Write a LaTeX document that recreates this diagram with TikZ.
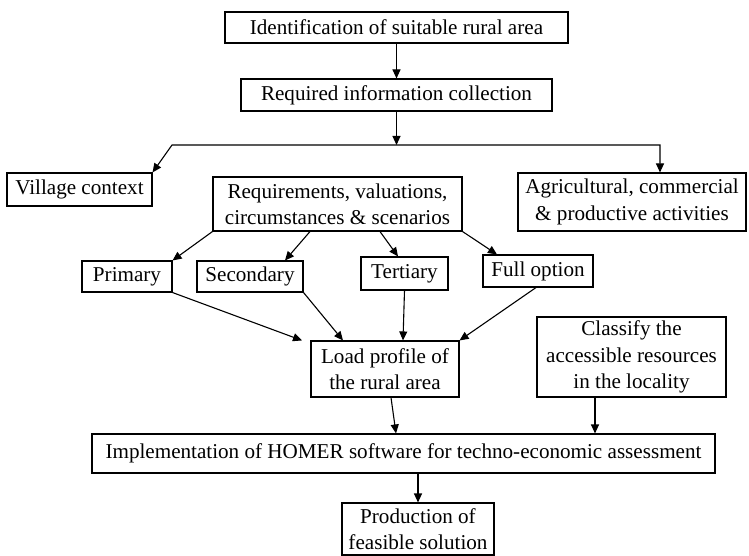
\documentclass[tikz,border=0pt]{standalone}
\usepackage{fontspec}
\setmainfont{Liberation Serif}
\usetikzlibrary{arrows.meta,calc}
\begin{document}
\begin{tikzpicture}[x=1bp,y=-1bp,
  box/.style={draw,line width=1.1bp,inner sep=0pt,align=center,
    font=\fontsize{21.2}{26.5}\selectfont},
  arr/.style={line width=1.1bp,-{Triangle[length=9bp,width=8bp]}},
  darr/.style={line width=1.1bp,{Triangle[length=9bp,width=8bp]}-{Triangle[length=9bp,width=8bp]}}]
\useasboundingbox (0,0) rectangle (749,556);
\node[box,minimum width=343bp,minimum height=31bp] (ident) at (396.5,27.5) {Identification of suitable rural area};
\node[box,minimum width=311bp,minimum height=32bp] (req) at (396.5,95) {Required information collection};
\node[box,minimum width=145bp,minimum height=33bp] (village) at (79.5,189.5) {Village context};
\node[box,minimum width=249bp,minimum height=54bp] (reqs) at (337.5,204) {Requirements, valuations,\\circumstances \& scenarios};
\node[box,minimum width=228bp,minimum height=58bp] (agri) at (632,202) {Agricultural, commercial\\\& productive activities};
\node[box,minimum width=90bp,minimum height=31bp] (primary) at (127,276.5) {Primary};
\node[box,minimum width=106bp,minimum height=31bp] (secondary) at (250,276.5) {Secondary};
\node[box,minimum width=87bp,minimum height=33bp] (tertiary) at (404.5,273.5) {Tertiary};
\node[box,minimum width=110bp,minimum height=32bp] (fullopt) at (538,271) {Full option};
\node[box,minimum width=148bp,minimum height=56bp] (load) at (385,369) {Load profile of\\the rural area};
\node[box,minimum width=189bp,minimum height=80bp] (classify) at (631.5,357) {Classify the\\accessible resources\\in the locality};
\node[box,minimum width=623bp,minimum height=39bp] (impl) at (403.5,453.5) {Implementation of HOMER software for techno-economic assessment};
\node[box,minimum width=152bp,minimum height=52bp] (prod) at (418,529) {Production of\\feasible solution};
\coordinate (jl) at (172,145);
\coordinate (jr) at (660,145);
\draw[arr] (ident.south) -- (req.north);
\draw[arr] (req.south) -- (req.south |- jl);
\draw[darr] (village.north east) -- (jl) -- (jr) -- (jr |- agri.north);
\draw[arr] (reqs.south west) -- (primary.north east);
\draw[arr] ([xshift=-27.5bp]reqs.south) -- ([xshift=35bp]secondary.north);
\draw[arr] ([xshift=42.5bp]reqs.south) -- ([xshift=-6.5bp]tertiary.north);
\draw[arr] (reqs.south east) -- ([xshift=-41bp]fullopt.north);
\draw[arr] (primary.south east) -- ([xshift=-83bp]load.north);
\draw[arr] (secondary.south east) -- ([xshift=-42bp]load.north);
\draw[arr] (tertiary.south) -- ([xshift=18bp]load.north);
\draw[arr] ([xshift=-2bp]fullopt.south) -- (load.north east);
\draw[arr] ([xshift=6bp]load.south) -- ([xshift=-7.5bp]impl.north);
\draw[arr] ([xshift=-36.5bp]classify.south) -- ([xshift=-36.5bp]classify.south |- impl.north);
\draw[arr] (prod.north |- impl.south) -- (prod.north);
\end{tikzpicture}
\end{document}
